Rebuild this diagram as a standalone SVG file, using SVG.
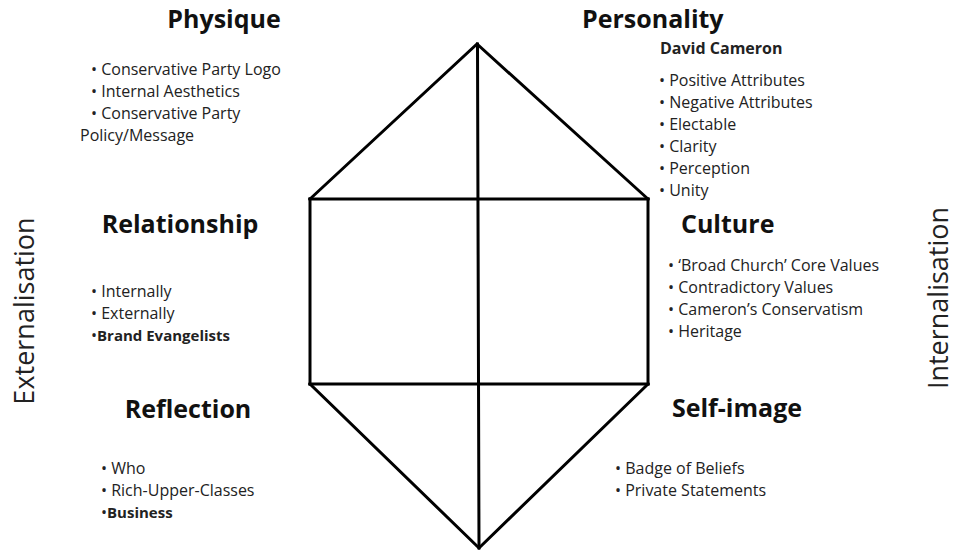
<svg xmlns="http://www.w3.org/2000/svg" width="955" height="552" viewBox="0 0 955 552">
  <style>
    .frame { fill: none; stroke: #000; stroke-width: 3; stroke-linejoin: miter; stroke-linecap: square; }
    .title { font-family: "Open Sans", "Liberation Sans", sans-serif; font-weight: 700; font-size: 25px; fill: #111; }
    .item { font-family: "Open Sans", "Liberation Sans", sans-serif; font-size: 16px; fill: #222; }
    .strong { font-weight: 700; }
    .axis { font-family: "Open Sans", "Liberation Sans", sans-serif; font-size: 27px; fill: #222; }
  </style>
  <rect width="955" height="552" fill="#fff"/>

  <!-- prism outline -->
  <g id="connectors">
    <polyline class="frame" points="310,199 477,44 648,199"/>
    <line class="frame" x1="310" y1="199" x2="648" y2="199" stroke-width="4"/>
    <line class="frame" x1="310" y1="199" x2="310" y2="384"/>
    <line class="frame" x1="648" y1="199" x2="648" y2="384"/>
    <line class="frame" x1="310" y1="384" x2="648" y2="384"/>
    <polyline class="frame" points="310,384 479,548 648,384"/>
    <line class="frame" x1="477.5" y1="44" x2="479" y2="548"/>
  </g>

  <g id="physique">
    <text class="title" x="224" y="28" text-anchor="middle">Physique</text>
    <text class="item" x="91" y="75">• Conservative Party Logo</text>
    <text class="item" x="91" y="97">• Internal Aesthetics</text>
    <text class="item" x="91" y="119">• Conservative Party</text>
    <text class="item" x="80" y="141">Policy/Message</text>
  </g>

  <g id="personality">
    <text class="title" x="582" y="28">Personality</text>
    <text class="item strong" x="660" y="54" font-size="15">David Cameron</text>
    <text class="item" x="659" y="86">• Positive Attributes</text>
    <text class="item" x="659" y="108">• Negative Attributes</text>
    <text class="item" x="659" y="130">• Electable</text>
    <text class="item" x="659" y="152">• Clarity</text>
    <text class="item" x="659" y="174">• Perception</text>
    <text class="item" x="659" y="196">• Unity</text>
  </g>

  <g id="relationship">
    <text class="title" x="180" y="233" text-anchor="middle">Relationship</text>
    <text class="item" x="91" y="297">• Internally</text>
    <text class="item" x="91" y="319">• Externally</text>
    <text class="item" x="91" y="341">•<tspan class="strong" font-size="15">Brand Evangelists</tspan></text>
  </g>

  <g id="culture">
    <text class="title" x="681" y="233">Culture</text>
    <text class="item" x="668" y="271">• ‘Broad Church’ Core Values</text>
    <text class="item" x="668" y="293">• Contradictory Values</text>
    <text class="item" x="668" y="315">• Cameron’s Conservatism</text>
    <text class="item" x="668" y="337">• Heritage</text>
  </g>

  <g id="reflection">
    <text class="title" x="188" y="418" text-anchor="middle">Reflection</text>
    <text class="item" x="101" y="474">• Who</text>
    <text class="item" x="101" y="496">• Rich-Upper-Classes</text>
    <text class="item" x="101" y="518">•<tspan class="strong" font-size="15">Business</tspan></text>
  </g>

  <g id="self-image">
    <text class="title" x="737" y="417" text-anchor="middle">Self-image</text>
    <text class="item" x="615" y="474">• Badge of Beliefs</text>
    <text class="item" x="615" y="496">• Private Statements</text>
  </g>

  <g id="externalisation">
    <text class="axis" x="0" y="0" text-anchor="middle" transform="translate(34,311) rotate(-90)">Externalisation</text>
  </g>
  <g id="internalisation">
    <text class="axis" x="0" y="0" text-anchor="middle" transform="translate(948,298) rotate(-90)">Internalisation</text>
  </g>
</svg>
